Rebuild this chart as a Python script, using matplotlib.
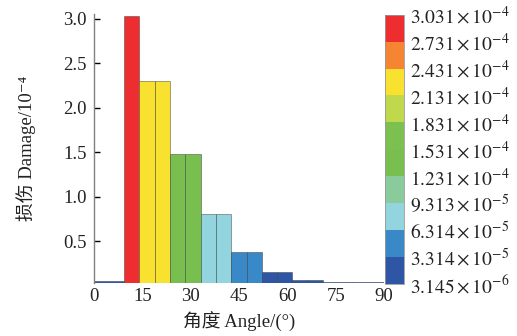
import numpy as np
import matplotlib
matplotlib.use("Agg")
import matplotlib.pyplot as plt
from matplotlib.colors import ListedColormap, BoundaryNorm

plt.rcParams['font.family'] = ['Liberation Serif', 'Noto Sans CJK SC', 'DejaVu Serif']
plt.rcParams['mathtext.fontset'] = 'stix'

# Data (damage in units of 1e-4), bins in degrees
bin_edges = [0, 9.3, 14.1, 18.8, 23.6, 28.4, 33.1, 37.9, 42.6, 47.4, 52.1,
             56.8, 61.5, 66.2, 71.1, 80.5, 90]
damage = [0.05, 3.031, 2.30, 2.30, 1.48, 1.48, 0.80, 0.80, 0.375, 0.375,
          0.155, 0.155, 0.068, 0.068, 0.040, 0.038]

levels = [0.03145, 0.3314, 0.6314, 0.9313, 1.231, 1.531, 1.831, 2.131, 2.431, 2.731, 3.031]
level_labels = [r'$3.145\times10^{-6}$', r'$3.314\times10^{-5}$', r'$6.314\times10^{-5}$',
                r'$9.313\times10^{-5}$', r'$1.231\times10^{-4}$', r'$1.531\times10^{-4}$',
                r'$1.831\times10^{-4}$', r'$2.131\times10^{-4}$', r'$2.431\times10^{-4}$',
                r'$2.731\times10^{-4}$', r'$3.031\times10^{-4}$']
band_colors = ['#2F56A5', '#3989C8', '#93D5DF', '#8ACB9C', '#78BF50', '#7CC04F',
               '#C0D84C', '#F9E22F', '#F58433', '#EE2D30']

yticks = [0.5, 1.0, 1.5, 2.0, 2.5, 3.0]
xticks = [0, 15, 30, 45, 60, 75, 90]

cmap = ListedColormap(band_colors)
norm = BoundaryNorm(levels, cmap.N, clip=True)

fig = plt.figure(figsize=(5.17, 3.36), dpi=100)
ax = fig.add_axes([0.1818, 0.158, 0.5609, 0.800])

edges = np.array(bin_edges)
lefts = edges[:-1]
widths = np.diff(edges)
ax.bar(lefts, damage, width=widths, align='edge', bottom=0,
       color=[cmap(norm(v)) for v in damage],
       edgecolor=(0.2, 0.2, 0.2, 0.45), linewidth=0.7)

fs = 13.5
ax.set_xlim(0, 90)
ax.set_ylim(0.03145, 3.05)
ax.set_xticks(xticks)
ax.set_xticklabels([str(t) for t in xticks], fontsize=fs, color='#222222')
ax.set_yticks(yticks)
ax.set_yticklabels([f'{t:.1f}' for t in yticks], fontsize=fs, color='#222222')
ax.tick_params(axis='x', length=0, pad=4)
ax.tick_params(axis='y', direction='in', length=4, width=1, color='black', pad=5)
for s in ['top', 'right', 'bottom']:
    ax.spines[s].set_visible(False)
ax.spines['left'].set_color('#808080')
ax.spines['left'].set_linewidth(1.0)

ax.set_xlabel('角度 Angle/(°)', fontsize=fs, labelpad=5, color='#222222')
ax.set_ylabel('损伤 Damage/10⁻⁴', fontsize=fs, labelpad=20, color='#222222')

cax = fig.add_axes([0.7447, 0.1548, 0.0368, 0.8015])
sm = matplotlib.cm.ScalarMappable(cmap=cmap, norm=norm)
cb = fig.colorbar(sm, cax=cax, ticks=levels, spacing='uniform')
cb.set_ticklabels(level_labels)
cb.ax.tick_params(length=0, labelsize=14, pad=4, labelcolor='#222222')
cb.outline.set_edgecolor('#999999')
cb.outline.set_linewidth(0.6)

fig.savefig('out.png', dpi=100)
